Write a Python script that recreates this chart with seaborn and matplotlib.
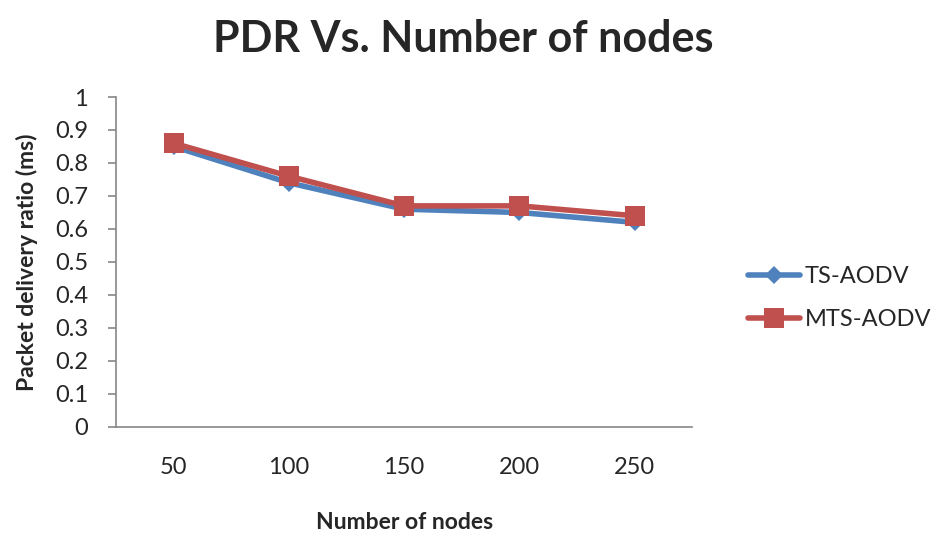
import matplotlib
matplotlib.use("Agg")
import matplotlib.pyplot as plt
import seaborn as sns
import pandas as pd

nodes = ["50", "100", "150", "200", "250"]
ts_aodv = [0.85, 0.74, 0.66, 0.65, 0.62]
mts_aodv = [0.86, 0.76, 0.67, 0.67, 0.64]
series_names = ["TS-AODV", "MTS-AODV"]
y_ticks = [0, 0.1, 0.2, 0.3, 0.4, 0.5, 0.6, 0.7, 0.8, 0.9, 1]
y_tick_labels = ["0", "0.1", "0.2", "0.3", "0.4", "0.5", "0.6", "0.7", "0.8", "0.9", "1"]

df = pd.DataFrame({
    "Number of nodes": nodes * 2,
    "PDR": ts_aodv + mts_aodv,
    "Protocol": [series_names[0]] * len(nodes) + [series_names[1]] * len(nodes),
})

sns.set_theme(style="white")
plt.rcParams["font.family"] = ["Lato", "DejaVu Sans"]

fig = plt.figure(figsize=(9.33, 5.33), dpi=100)
ax = fig.add_axes([0.1243, 0.199, 0.6177, 0.619])

palette = {"TS-AODV": "#4F81BD", "MTS-AODV": "#C0504D"}
sns.lineplot(data=df, x="Number of nodes", y="PDR", hue="Protocol", style="Protocol",
             markers={"TS-AODV": "D", "MTS-AODV": "s"}, dashes=False,
             palette=palette, linewidth=4, sort=False, ax=ax,
             markeredgewidth=0)
for line in ax.lines:
    if line.get_marker() == "D":
        line.set_markersize(9)
    else:
        line.set_markersize(14)

ax.set_xlim(-0.5, len(nodes) - 0.5)
ax.set_ylim(0, 1)
ax.set_yticks(y_ticks)
ax.set_yticklabels(y_tick_labels)
for s in ["top", "right"]:
    ax.spines[s].set_visible(False)
for s in ["left", "bottom"]:
    ax.spines[s].set_color("#868686")
    ax.spines[s].set_linewidth(1.2)
ax.tick_params(axis="y", which="both", left=True, length=6, color="#868686", width=1.2,
               labelsize=17, pad=14)
ax.tick_params(axis="x", bottom=False, labelsize=17, pad=16)

ax.set_xlabel("Number of nodes", fontsize=16.5, fontweight="bold", labelpad=24)
ax.set_ylabel("Packet delivery ratio (ms)", fontsize=16.5, fontweight="bold", labelpad=12)
fig.suptitle("PDR Vs. Number of nodes", fontsize=31, fontweight="bold", x=0.496, y=0.965)

handles, labels = ax.get_legend_handles_labels()
for h in handles:
    h.set_linewidth(4)
    if h.get_marker() == "D":
        h.set_markersize(9)
    else:
        h.set_markersize(14)
ax.legend(handles, labels, loc="center left", bbox_to_anchor=(1.06, 0.39), frameon=False,
          fontsize=17, handlelength=2.2, handletextpad=0.2, labelspacing=0.95)

fig.savefig("out.png", dpi=100)
